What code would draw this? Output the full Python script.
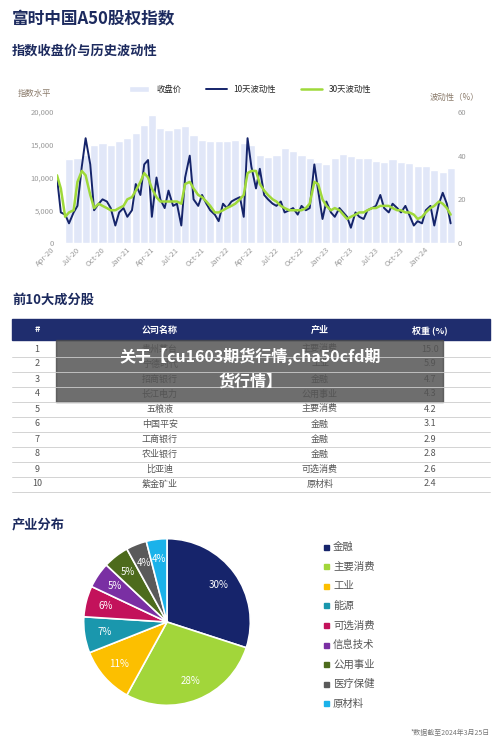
import numpy as np, pandas as pd, matplotlib
matplotlib.use("Agg")
import matplotlib.pyplot as plt, seaborn as sns
from matplotlib.patches import Rectangle

sns.set_style("white")
plt.rcParams['font.family'] = ['Noto Sans CJK SC', 'DejaVu Sans']

close = [12800,13000,13500,15000,15300,15000,15500,16000,16800,18000,19500,17500,
         17200,17500,17800,16500,15800,15500,15600,15500,15700,15300,15000,13500,
         13200,13500,14500,14000,13500,13000,12300,12000,13000,13600,13300,13000,
         13000,12500,12300,12800,12300,12200,11800,11700,11200,10800,11500,12000]
vol10 = [30,14,13,9,14,17,35,48,36,15,18,20,19,16,8,14,16,12,15,27,22,36,38,12,
         30,20,16,24,17,18,8,30,40,20,17,22,18,15,13,10,18,16,19,20,21,12,48,35,
         25,34,22,20,18,17,19,14,15,16,13,17,15,16,36,24,11,19,14,12,16,14,12,7,
         14,12,11,15,16,17,22,16,14,18,16,14,17,13,8,10,9,15,17,8,18,23,18,9]
vol30 = [31,25,12,14,15,28,33,31,22,16,18,17,16,15,15,16,17,20,21,24,28,32,30,25,
         21,19,19,19,19,19,18,27,28,25,22,21,19,17,14,14,15,16,17,18,20,22,32,33,
         33,27,24,22,20,19,17,16,15,15,15,15,16,18,28,27,20,17,15,16,15,13,11,12,
         13,14,14,15,16,16,17,17,17,16,15,15,14,14,13,11,12,14,16,17,19,18,16,13]
xticks = ["Apr-20","Jul-20","Oct-20","Jan-21","Apr-21","Jul-21","Oct-21","Jan-22","Apr-22",
          "Jul-22","Oct-22","Jan-23","Apr-23","Jul-23","Oct-23","Jan-24"]

ranks = [1,2,3,4,5,6,7,8,9,10]
companies = ["贵州茅台","宁德时代","招商银行","长江电力","五粮液","中国平安","工商银行","农业银行","比亚迪","紫金矿业"]
industries = ["主要消费","工业","金融","公用事业","主要消费","金融","金融","金融","可选消费","原材料"]
weights = [15.0,5.9,4.7,4.3,4.2,3.1,2.9,2.8,2.6,2.4]

sectors = ["金融","主要消费","工业","能源","可选消费","信息技术","公用事业","医疗保健","原材料"]
shares = [30,28,11,7,6,5,5,4,4]
colors = ["#16246b","#a2d63a","#fcbf00","#1a97ad","#c3125b","#7a2fa3","#4d6b1c","#5a5a5a","#1bb2ea"]

W,H = 500,742
fig = plt.figure(figsize=(5,7.42), dpi=100)
fig.patch.set_facecolor("white")
def fx(x): return x/W
def fy(y): return 1-y/H
navy = "#1c2a5e"

fig.text(fx(12),fy(18),"富时中国A50股权指数",fontsize=12,fontweight="bold",color=navy,va="center")
fig.text(fx(12),fy(51),"指数收盘价与历史波动性",fontsize=9.5,fontweight="bold",color=navy,va="center")

ax = fig.add_axes([fx(57),fy(243),fx(455)-fx(57),fy(112)-fy(243)])
md = pd.date_range("2020-04-15",periods=len(close),freq="MS")+pd.Timedelta(days=14)
ax.bar(md,close,width=30,color="#e1e7f8",label="收盘价")
ax.set_ylim(0,20000); ax.set_yticks([0,5000,10000,15000,20000])
ax.set_yticklabels(["0","5,000","10,000","15,000","20,000"])
ax2 = ax.twinx()
sd = pd.date_range("2020-04-01",periods=len(vol10),freq="SMS")
df = pd.DataFrame({"d":sd,"v10":vol10,"v30":vol30})
sns.lineplot(data=df,x="d",y="v10",ax=ax2,color="#15246a",lw=1.4,label="10天波动性")
sns.lineplot(data=df,x="d",y="v30",ax=ax2,color="#9fd93a",lw=1.8,label="30天波动性")
ax2.set_ylim(0,60); ax2.set_yticks([0,20,40,60])
ax2.set_xlabel(""); ax2.set_ylabel("")
ax2.get_legend().remove()
tickd = pd.date_range("2020-04-01",periods=16,freq="3MS")
ax.set_xticks(tickd); ax.set_xticklabels(xticks,rotation=45,ha="right")
ax.set_xlim(pd.Timestamp("2020-04-01"),pd.Timestamp("2024-03-31"))
for a in (ax,ax2):
    a.tick_params(labelsize=5.5,colors="#9a9a9a",length=0,pad=2)
    for s in a.spines.values(): s.set_visible(False)
fig.text(fx(18),fy(93),"指数水平",fontsize=6,color="#8a7a6a",va="center")
fig.text(fx(430),fy(97),"波动性（%）",fontsize=6,color="#8a7a6a",va="center")
h1,l1 = ax.get_legend_handles_labels(); h2,l2 = ax2.get_legend_handles_labels()
fig.legend(h1+h2,l1+l2,loc="center",bbox_to_anchor=(fx(250),fy(89)),ncol=3,frameon=False,
           fontsize=6,handlelength=2.5,columnspacing=3)

fig.text(fx(12),fy(300),"前10大成分股",fontsize=9.5,fontweight="bold",color=navy,va="center")
tax = fig.add_axes([0,0,1,1]); tax.set_xlim(0,W); tax.set_ylim(H,0); tax.axis("off")
tax.add_patch(Rectangle((12,319),478,21,color="#1f2d6e"))
cx = [37,160,320,430]
for x,t in zip(cx,["#","公司名称","产业","权重 (%)"]):
    tax.text(x,330,t,color="white",fontsize=6.5,fontweight="bold",ha="center",va="center")
for i in range(10):
    y = 349+i*15
    for x,t in zip(cx,[str(ranks[i]),companies[i],industries[i],f"{weights[i]:.1f}"]):
        tax.text(x,y,t,color="#555",fontsize=6.5,ha="center",va="center")
    tax.plot([12,490],[y+7.5,y+7.5],color="#cccccc",lw=0.6)
tax.add_patch(Rectangle((56,340),387,62,color="#4a4a4a",alpha=0.8))
tax.text(250,356,"关于【cu1603期货行情,cha50cfd期",color="white",fontsize=11.5,fontweight="bold",ha="center",va="center")
tax.text(250,382,"货行情】",color="white",fontsize=11.5,fontweight="bold",ha="center",va="center")

fig.text(fx(12),fy(524),"产业分布",fontsize=9.5,fontweight="bold",color=navy,va="center")
pax = fig.add_axes([fx(82),fy(707),fx(252)-fx(82),fy(537)-fy(707)])
pax.pie(shares,colors=colors,startangle=90,counterclock=False,radius=1.0,
        autopct="%d%%",pctdistance=0.76,wedgeprops=dict(edgecolor="white",linewidth=1.2),
        textprops=dict(color="white",fontsize=7))
pax.set_xlim(-1.02,1.02); pax.set_ylim(-1.02,1.02)
for i,(s,c) in enumerate(zip(sectors,colors)):
    y = 547+i*19.6
    tax.add_patch(Rectangle((324,y-2.5),5,5,color=c))
    tax.text(333,y,s,fontsize=7.5,color="#555",va="center")
tax.text(490,733,"*数据截至2024年3月25日",fontsize=5,color="#777",ha="right",va="center")

fig.savefig("out.png",dpi=100)
